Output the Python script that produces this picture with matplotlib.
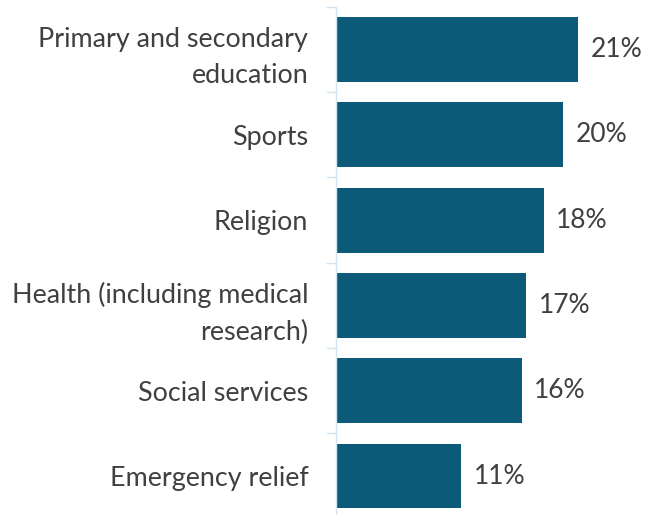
import matplotlib.pyplot as plt

categories = ['Primary and secondary\neducation', 'Sports', 'Religion',
              'Health (including medical\nresearch)', 'Social services',
              'Emergency relief']
values = [21.0, 19.7, 18.0, 16.5, 16.1, 10.85]
value_labels = ['21%', '20%', '18%', '17%', '16%', '11%']

bar_color = '#0b5a77'
text_color = '#404040'
axis_color = '#d3e5ef'

plt.rcParams['font.family'] = ['Lato', 'DejaVu Sans']

fig = plt.figure(figsize=(6.45, 5.15), dpi=100)
ax = fig.add_axes([0.521, -0.0072, 0.479, 0.9939])

pos = list(range(len(categories)))[::-1]
bars = ax.barh(pos, values, height=0.76, color=bar_color)

for p, v, lab in zip(pos, values, value_labels):
    ax.text(v + 1.1, p, lab, va='center', ha='left', fontsize=19, color=text_color)

ax.set_xlim(0, 26.8)
ax.set_ylim(-0.5, len(categories) - 0.5)
ax.set_yticks(pos)
ax.set_yticklabels(categories, fontsize=19.4, color=text_color, linespacing=1.55)
ax.set_yticks([i - 0.5 for i in range(len(categories) + 1)], minor=True)
ax.tick_params(axis='y', which='major', length=0, pad=20)
ax.tick_params(axis='y', which='minor', length=7.2, color=axis_color, width=1)
ax.set_xticks([])
for s in ['top', 'right', 'bottom']:
    ax.spines[s].set_visible(False)
ax.spines['left'].set_color(axis_color)
ax.spines['left'].set_linewidth(1)

fig.savefig('out.png', dpi=100)
